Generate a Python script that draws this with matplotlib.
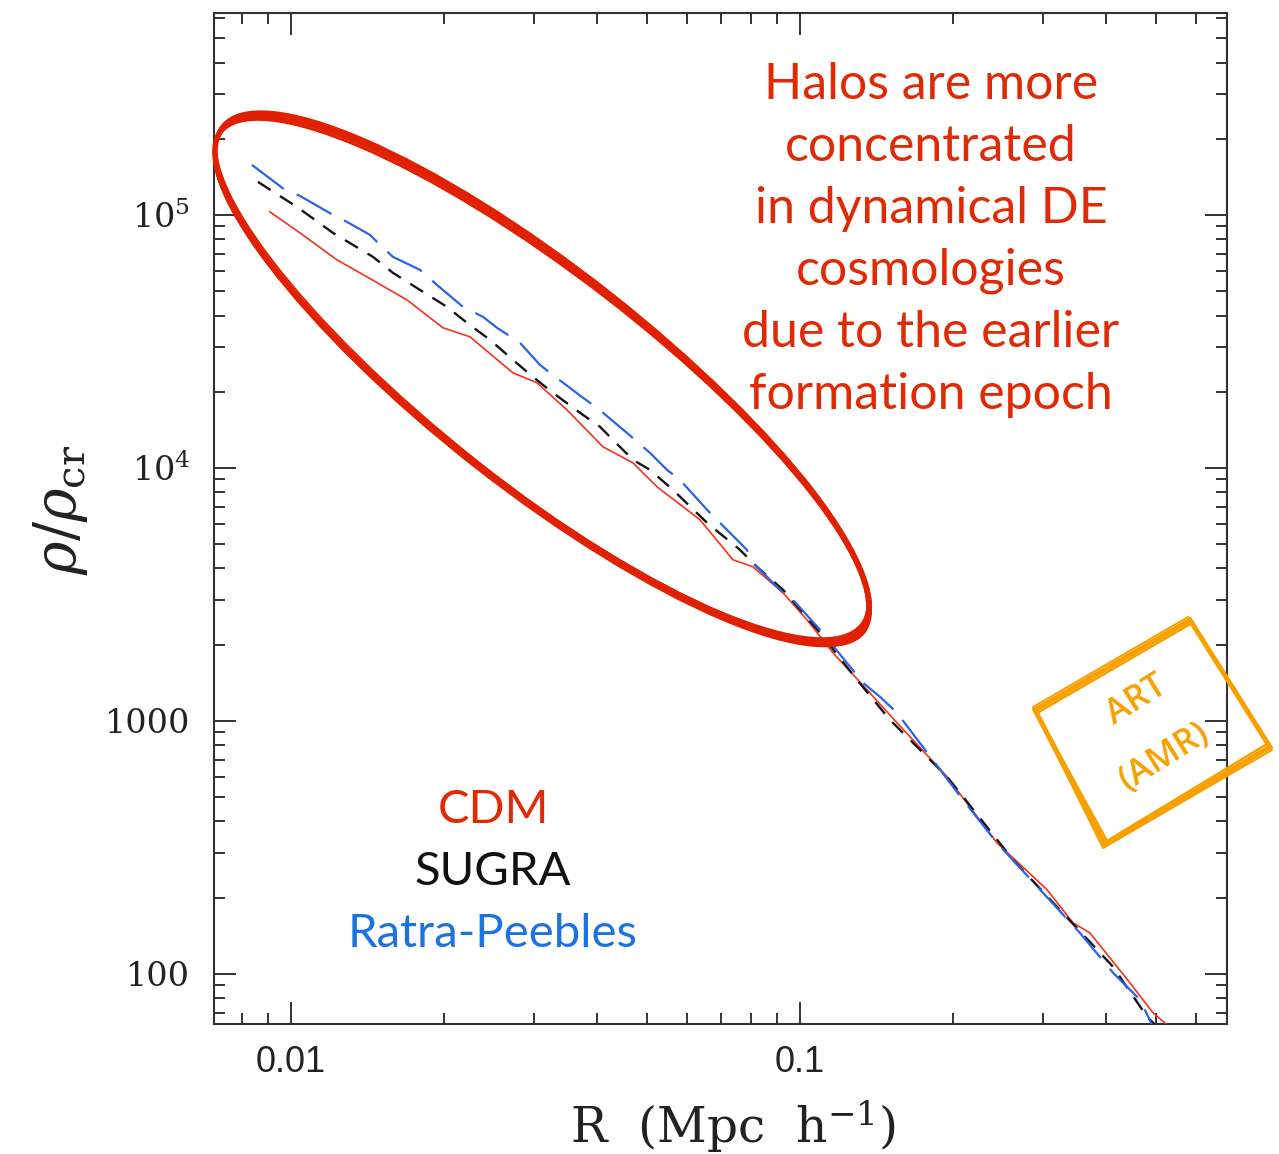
import matplotlib
matplotlib.use('Agg')
import matplotlib.pyplot as plt
from matplotlib.patches import Ellipse, Polygon
from matplotlib.transforms import Affine2D
from matplotlib.ticker import FixedLocator, NullFormatter, FixedFormatter

# ---------------- data ----------------
cdm_r = [0.00909, 0.01041, 0.01231, 0.01410, 0.01690, 0.01989, 0.02247, 0.02729,
         0.03043, 0.03484, 0.04102, 0.04697, 0.05237, 0.06362, 0.07383, 0.08083,
         0.09261, 0.1032, 0.1161, 0.1354, 0.1551, 0.1945, 0.2438, 0.3057, 0.3438,
         0.3712, 0.4448, 0.4937, 0.5260]
cdm_rho = [102800, 84900, 66400, 56900, 46100, 35770, 32950, 23740,
           21680, 16950, 12110, 10460, 8412, 6232, 4329, 4062,
           3205, 2507, 1857, 1326, 982, 601, 329, 215, 159,
           145, 92.1, 70.1, 62.9]

sugra_r = [0.00861, 0.01027, 0.01209, 0.01449, 0.01586, 0.01792, 0.02025, 0.02217,
           0.02460, 0.02729, 0.02987, 0.03271, 0.03697, 0.04047, 0.04232, 0.04697,
           0.05072, 0.05628, 0.06569, 0.07620, 0.08229, 0.09261, 0.1095, 0.1294,
           0.1502, 0.1945, 0.2622, 0.4121, 0.4806, 0.4982]
sugra_rho = [135000, 107560, 84900, 68230, 59000, 50520, 43290, 37430,
             32050, 26730, 22890, 19790, 16500, 14530, 13260, 10755,
             9820, 8185, 6060, 4742, 4062, 3295, 2227, 1453,
             1009, 601, 282, 106.6, 67.6, 62.9]

rp_r = [0.00838, 0.00973, 0.01041, 0.01209, 0.01288, 0.01429, 0.01510, 0.01586,
        0.01792, 0.01935, 0.02177, 0.02384, 0.02540, 0.02818, 0.03084, 0.03228,
        0.03748, 0.03993, 0.04571, 0.05072, 0.05478, 0.05808, 0.06569, 0.06869,
        0.07866, 0.08083, 0.09261, 0.09687, 0.1095, 0.1330, 0.1436, 0.1551,
        0.2090, 0.2438, 0.3548, 0.4121, 0.4656, 0.4914]
rp_rho = [157600, 125600, 118900, 100000, 93800, 83370, 74730, 68230,
          60620, 52880, 43290, 39530, 35770, 31200, 25530, 23740,
          18910, 17270, 13750, 11460, 9820, 8968, 6823, 6232,
          4742, 4212, 3205, 3008, 2289, 1413, 1244, 1075,
          487, 329, 145, 100.9, 78.9, 62.9]

x_major = [0.01, 0.1]
x_major_labels = ['0.01', '0.1']
x_minor = [0.008, 0.009, 0.02, 0.03, 0.04, 0.05, 0.06, 0.07, 0.08, 0.09,
           0.2, 0.3, 0.4, 0.5, 0.6]
y_major = [100, 1000, 1e4, 1e5]
y_major_labels = ['100', '1000', r'$\mathregular{10^4}$', r'$\mathregular{10^5}$']
y_minor = [70, 80, 90, 200, 300, 400, 500, 600, 700, 800, 900,
           2000, 3000, 4000, 5000, 6000, 7000, 8000, 9000,
           2e4, 3e4, 4e4, 5e4, 6e4, 7e4, 8e4, 9e4,
           2e5, 3e5, 4e5, 5e5, 6e5]

legend_labels = ['CDM', 'SUGRA', 'Ratra-Peebles']
note_text = ('Halos are more\nconcentrated\nin dynamical DE\ncosmologies\n'
             'due to the earlier\nformation epoch')
stamp_text = ['ART', '(AMR)']

# ---------------- figure ----------------
W, H = 1279, 1154
plt.rcParams['mathtext.fontset'] = 'dejavuserif'
fig = plt.figure(figsize=(W / 100, H / 100), dpi=100)
fig.patch.set_facecolor('white')
ax = fig.add_axes([214 / W, 1 - 1024 / H, (1227 - 214) / W, (1024 - 13) / H])
ax.set_xscale('log')
ax.set_yscale('log')
ax.set_xlim(0.00706, 0.690)
ax.set_ylim(63.3, 6.28e5)

red_c = '#f5321e'
blue_c = '#2a63e8'
ax.plot(cdm_r, cdm_rho, color=red_c, lw=1.2, zorder=3)
ax.plot(sugra_r, sugra_rho, color='#151515', lw=1.7, dashes=(6.4, 4.7), zorder=3)
ax.plot(rp_r, rp_rho, color=blue_c, lw=1.6, dashes=(18, 6.3), zorder=3)

ax.xaxis.set_major_locator(FixedLocator(x_major))
ax.xaxis.set_major_formatter(FixedFormatter(x_major_labels))
ax.xaxis.set_minor_locator(FixedLocator(x_minor))
ax.xaxis.set_minor_formatter(NullFormatter())
ax.yaxis.set_major_locator(FixedLocator(y_major))
ax.yaxis.set_major_formatter(FixedFormatter(y_major_labels))
ax.yaxis.set_minor_locator(FixedLocator(y_minor))
ax.yaxis.set_minor_formatter(NullFormatter())

spine_c = '#333333'
for s in ax.spines.values():
    s.set_linewidth(1.5)
    s.set_color(spine_c)
ax.tick_params(which='both', direction='in', top=True, right=True, color=spine_c)
ax.tick_params(which='major', length=16, width=1.4)
ax.tick_params(which='minor', length=8, width=1.4)
ax.tick_params(axis='y', which='major', pad=17, labelsize=24)
ax.tick_params(axis='x', which='major', pad=15, labelsize=26)
for lab in ax.get_yticklabels():
    lab.set_family('DejaVu Serif')
    lab.set_color('#222222')
for lab in ax.get_xticklabels():
    lab.set_family(['Liberation Sans Narrow', 'Liberation Sans', 'DejaVu Sans'])
    lab.set_color('#222222')

# pixel (top-left origin) -> figure transform
T = Affine2D().scale(1 / W, -1 / H).translate(0, 1) + fig.transFigure

fig.text(733, 1127, r'R  (Mpc  h$^{-1}$)', transform=T, ha='center', va='center',
         fontsize=35, family='DejaVu Serif', color='#222222')
fig.text(60, 510, r'$\rho/\rho_{\rm cr}$', transform=T, ha='center', va='center',
         rotation=90, fontsize=41, color='#222222')

# annotation text
fig.text(931, 240, note_text, transform=T, ha='center', va='center',
         fontsize=36, family='Lato', color='#e02a05', linespacing=1.43,
         multialignment='center')
legend_colors = ['#e02a05', '#111111', '#1a73e0']
legend_y = [810, 872, 934]
for lab, c, yy in zip(legend_labels, legend_colors, legend_y):
    fig.text(493, yy, lab, transform=T, ha='center', va='center',
             fontsize=34, family='Lato', color=c)

# hand-drawn ellipse (several overlapping strokes)
ell_c = '#e02000'
strokes = [(0, 0, 0, 0, 0.0, 4.0), (1.0, -0.8, 2, 1.5, 0.3, 2.2), (-1.0, 1.0, -1.5, -2, -0.25, 2.2),
           (0.5, 1.5, 1.5, 2.5, 0.15, 1.8), (-0.8, -1.2, -2, 1, -0.35, 1.8), (1.5, 0, 3, -1.5, 0.45, 1.4)]
for dx, dy, da, db, dang, lw in strokes:
    e = Ellipse((542 + dx, 379 + dy), 2 * (406 + da), 2 * (107 + db), angle=37.9 + dang,
                transform=T, fill=False, edgecolor=ell_c, lw=lw, zorder=5)
    fig.add_artist(e)

# orange stamp
org = '#f8a000'
box_strokes = [
    ([(1035, 710), (1190, 620), (1270, 747), (1105, 845)], 3.6),
    ([(1037, 713), (1192, 623), (1267, 744), (1107, 841)], 1.8),
    ([(1033, 707), (1188, 617), (1272, 750), (1103, 848)], 1.4),
]
for pts, lw in box_strokes:
    fig.add_artist(Polygon(pts, closed=True, fill=False, edgecolor=org, lw=lw,
                           transform=T, joinstyle='miter', zorder=6))
fig.text(1137, 700, stamp_text[0], transform=T, ha='center', va='center', rotation=32,
         fontsize=25, family=['Open Sans', 'DejaVu Sans'], weight='semibold', color=org, zorder=7)
fig.text(1164, 757, stamp_text[1], transform=T, ha='center', va='center', rotation=32,
         fontsize=25, family=['Open Sans', 'DejaVu Sans'], weight='semibold', color=org, zorder=7)

fig.savefig('out.png', dpi=100)
